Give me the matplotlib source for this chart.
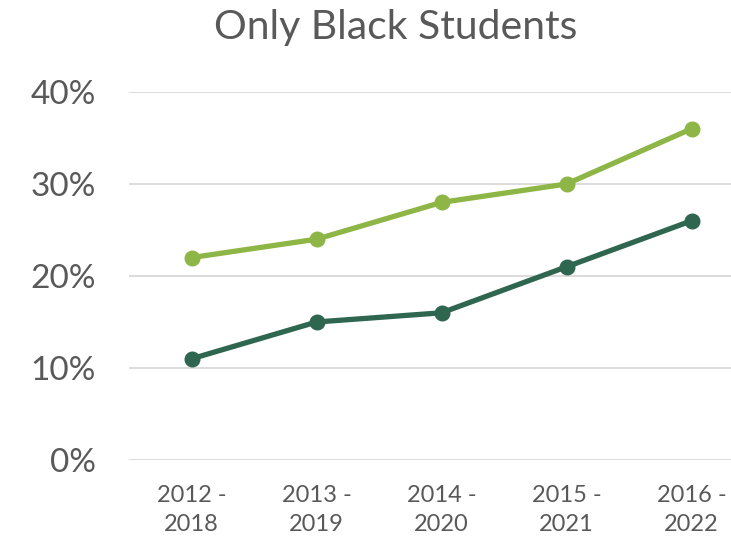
import matplotlib
matplotlib.use("Agg")
import matplotlib.pyplot as plt
from matplotlib.ticker import FuncFormatter

# data
periods = ["2012 -\n2018", "2013 -\n2019", "2014 -\n2020", "2015 -\n2021", "2016 -\n2022"]
series_light = [0.22, 0.24, 0.28, 0.30, 0.36]
series_dark = [0.11, 0.15, 0.16, 0.21, 0.26]
yticks = [0, 0.1, 0.2, 0.3, 0.4]

plt.rcParams['font.family'] = ['Lato', 'DejaVu Sans']
txt = '#595959'

fig = plt.figure(figsize=(7.31, 5.40), dpi=100)
ax = fig.add_axes([129/731, 80/540, 625/731, 368/540])

x = range(len(periods))
ax.plot(x, series_light, color='#8DB646', lw=3.8, marker='o', ms=10.5, solid_capstyle='round', zorder=3)
ax.plot(x, series_dark, color='#2F6650', lw=3.8, marker='o', ms=10.5, solid_capstyle='round', zorder=3)

ax.set_xlim(-0.5, 4.5)
ax.set_ylim(0, 0.4)
ax.set_yticks(yticks)
ax.yaxis.set_major_formatter(FuncFormatter(lambda v, p: f"{v*100:.0f}%"))
ax.set_xticks(list(x))
ax.set_xticklabels(periods, linespacing=1.45)
ax.grid(axis='y', color='#D9D9D9', lw=1.3)
ax.set_axisbelow(True)
for s in ax.spines.values():
    s.set_visible(False)
ax.tick_params(axis='both', length=0, colors=txt)
ax.tick_params(axis='y', labelsize=24, pad=24)
ax.tick_params(axis='x', labelsize=17, pad=18)

fig.text(396/731, 1 - 28/540, "Only Black Students", ha='center', va='center', fontsize=29.5, color=txt)

fig.savefig("out.png", dpi=100)
